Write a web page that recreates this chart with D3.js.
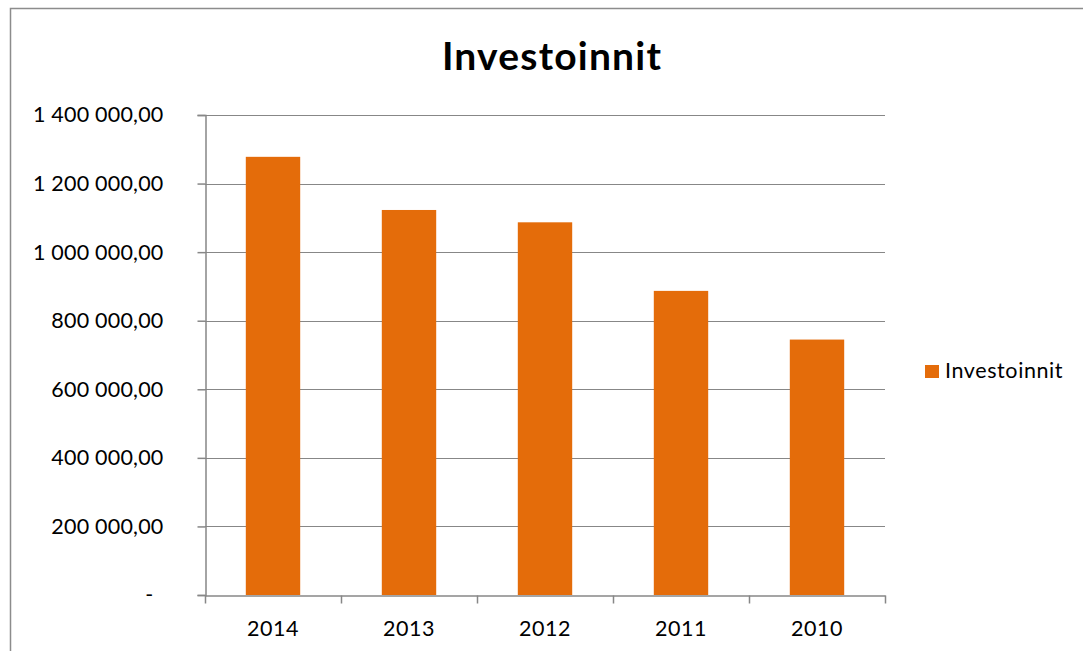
<!DOCTYPE html>
<html><head><meta charset="utf-8">
<script src="https://cdn.jsdelivr.net/npm/d3@7"></script>
<style>body{margin:0;background:#fff}svg{display:block}text{font-family:Lato,"Liberation Sans",sans-serif;fill:#000}</style>
</head><body>
<script>
const categories = ["2014","2013","2012","2011","2010"];
const values = [1278000, 1123000, 1087000, 887000, 745000];
const yTicks = [0,200000,400000,600000,800000,1000000,1200000,1400000];
const seriesName = "Investoinnit";
const title = "Investoinnit";

const W=1083,H=651;
const svg=d3.select("body").append("svg").attr("width",W).attr("height",H);
svg.append("path").attr("d",`M10.5,${H} V8.5 H${W}`).attr("fill","none").attr("stroke","#8c8c8c").attr("stroke-width",1.5);

const L=205,R=885,T=115,B=595;
const x=d3.scaleBand().domain(categories).range([L,R]).paddingInner(0.6).paddingOuter(0.3);
const xb=d3.scaleBand().domain(categories).range([L,R]);
const y=d3.scaleLinear().domain([0,1400000]).range([B,T]);

const fmt=v=> v===0?"-":d3.format(",.2f")(v).replace(/,/g," ").replace(/\.(\d\d)$/,",$1");

// gridlines
svg.append("g").selectAll("line").data(yTicks.slice(1)).join("line")
 .attr("x1",L).attr("x2",R).attr("y1",d=>Math.round(y(d))+0.5).attr("y2",d=>Math.round(y(d))+0.5)
 .attr("stroke","#878787").attr("stroke-width",1.2);

// bars
svg.append("g").selectAll("rect").data(values).join("rect")
 .attr("x",(d,i)=>x(categories[i])).attr("width",x.bandwidth())
 .attr("y",d=>y(d)).attr("height",d=>B-y(d)).attr("fill","#E46C0A");

// y axis
const ya=svg.append("g").attr("transform",`translate(${L+0.5},0)`)
 .call(d3.axisLeft(y).tickValues(yTicks).tickFormat(fmt).tickSize(8).tickPadding(34));
ya.select(".domain").attr("stroke","#878787").attr("stroke-width",1.5);
ya.selectAll(".tick line").attr("stroke","#878787").attr("stroke-width",1.5);
ya.selectAll("text").attr("font-size",21.5).attr("font-family","Lato").attr("fill","#000").attr("letter-spacing",0.2);
ya.selectAll(".tick").filter(d=>d===0).select("text").attr("x",-52);

// x axis
const xa=svg.append("g").attr("transform",`translate(0,${B+0.5})`)
 .call(d3.axisBottom(xb).tickSize(0).tickPadding(0).tickFormat(d=>d));
xa.select(".domain").attr("stroke","#878787").attr("stroke-width",1.5);
xa.selectAll(".tick text").attr("font-size",21.5).attr("font-family","Lato").attr("dy",0).attr("y",40).attr("fill","#000").attr("letter-spacing",0.5);
const edges=categories.map(c=>xb(c)).concat([R]);
xa.selectAll(".edge").data(edges).join("line").attr("class","edge")
 .attr("x1",d=>Math.round(d)+0.5).attr("x2",d=>Math.round(d)+0.5).attr("y1",0).attr("y2",8)
 .attr("stroke","#878787").attr("stroke-width",1.5);

// title
svg.append("text").attr("x",552).attr("y",70).attr("text-anchor","middle")
 .attr("font-size",39).attr("font-weight","bold").attr("letter-spacing",1.2).text(title);

// legend
svg.append("rect").attr("x",925).attr("y",365).attr("width",14).attr("height",13).attr("fill","#E46C0A");
svg.append("text").attr("x",945).attr("y",378).attr("font-size",21.5).attr("letter-spacing",0.6).text(seriesName);
</script>
</body></html>
